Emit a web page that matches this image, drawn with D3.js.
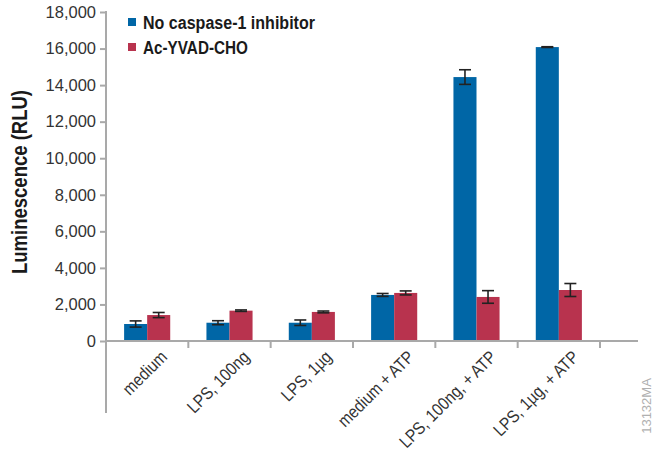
<!DOCTYPE html>
<html>
<head>
<meta charset="utf-8">
<script src="https://cdn.jsdelivr.net/npm/d3@7"></script>
<style>
  html, body { margin: 0; padding: 0; background: #fff; }
  svg { display: block; font-family: "Liberation Sans", Arial, Helvetica, sans-serif; }
</style>
</head>
<body>
<svg id="chart" width="656" height="455"></svg>
<script>
const categories = ["medium", "LPS, 100ng", "LPS, 1µg", "medium + ATP", "LPS, 100ng, + ATP", "LPS, 1µg, + ATP"];
const seriesNames = ["No caspase-1 inhibitor", "Ac-YVAD-CHO"];
const noInhibitor = [930, 1000, 1000, 2520, 14440, 16080];
const noInhibitorErr = [170, 110, 150, 80, 400, 20];
const acYvad = [1420, 1660, 1590, 2630, 2410, 2790];
const acYvadErr = [140, 40, 50, 110, 345, 355];
const yTicks = [0, 2000, 4000, 6000, 8000, 10000, 12000, 14000, 16000, 18000];
const colors = ["#0066a6", "#b8334e"];

const svg = d3.select("#chart");
const axisColor = "#a9a9a9";

const x0 = d3.scaleBand().domain(categories).range([106, 600]).paddingInner(0.44).paddingOuter(0.22);
const x1 = d3.scaleBand().domain(seriesNames).range([0, x0.bandwidth()]);
const y = d3.scaleLinear().domain([0, 18000]).range([341, 12]);

const values = [noInhibitor, acYvad];
const errs = [noInhibitorErr, acYvadErr];

// Bars
const groups = svg.append("g").selectAll("g").data(categories).join("g")
  .attr("transform", d => `translate(${x0(d)},0)`);

groups.selectAll("rect").data((d, i) => seriesNames.map((s, k) => ({s, k, v: values[k][i], e: errs[k][i]})))
  .join("rect")
  .attr("x", d => x1(d.s))
  .attr("width", x1.bandwidth())
  .attr("y", d => y(d.v))
  .attr("height", d => y(0) - y(d.v))
  .attr("fill", d => colors[d.k]);

// Error bars
const eb = groups.selectAll("g.err").data((d, i) => seriesNames.map((s, k) => ({s, k, v: values[k][i], e: errs[k][i]})))
  .join("g").attr("class", "err")
  .attr("transform", d => `translate(${x1(d.s) + x1.bandwidth() / 2},0)`);
eb.append("line").attr("x1", 0).attr("x2", 0)
  .attr("y1", d => y(d.v + d.e)).attr("y2", d => y(d.v - d.e))
  .attr("stroke", "#222").attr("stroke-width", 1.6);
eb.append("line").attr("x1", -6).attr("x2", 6)
  .attr("y1", d => y(d.v + d.e)).attr("y2", d => y(d.v + d.e))
  .attr("stroke", "#222").attr("stroke-width", 1.6);
eb.append("line").attr("x1", -6).attr("x2", 6)
  .attr("y1", d => y(d.v - d.e)).attr("y2", d => y(d.v - d.e))
  .attr("stroke", "#222").attr("stroke-width", 1.6);

// Y axis
const yAxis = svg.append("g").attr("transform", "translate(106,0)")
  .call(d3.axisLeft(y).tickValues(yTicks).tickSize(6).tickPadding(4).tickFormat(d3.format(",")));
yAxis.select(".domain").remove();
yAxis.selectAll(".tick line").attr("stroke", axisColor).attr("stroke-width", 2);
yAxis.selectAll(".tick text").attr("fill", "#333").style("font-size", "16.5px")
  .style("font-family", "\"Liberation Sans\", Arial, sans-serif");
svg.append("line").attr("x1", 106).attr("x2", 106).attr("y1", 11).attr("y2", 413)
  .attr("stroke", axisColor).attr("stroke-width", 2);

// X axis
svg.append("line").attr("x1", 105).attr("x2", 638).attr("y1", y(0)).attr("y2", y(0))
  .attr("stroke", axisColor).attr("stroke-width", 2);
const step = x0.step();
const boundaries = categories.map(c => x0(c) - x0.paddingOuter() * step + step);
svg.append("g").selectAll("line").data(boundaries).join("line")
  .attr("x1", d => d).attr("x2", d => d).attr("y1", y(0)).attr("y2", y(0) + 7)
  .attr("stroke", axisColor).attr("stroke-width", 2);

// Category labels
const catLabels = svg.append("g").selectAll("text").data(categories).join("text")
  .attr("transform", d => `translate(${x0(d) + x0.bandwidth() / 2 + 21},358) rotate(-45)`)
  .attr("text-anchor", "end")
  .attr("fill", "#333")
  .style("font-size", "17.5px")
  .text(d => d);
catLabels.each(function() {
  const len = this.getComputedTextLength();
  d3.select(this).attr("textLength", len * 0.87).attr("lengthAdjust", "spacingAndGlyphs");
});

// Y title
svg.append("text")
  .attr("transform", "translate(27,182) rotate(-90)")
  .attr("text-anchor", "middle")
  .attr("fill", "#1a1a1a")
  .style("font-size", "21.5px").style("font-weight", "bold")
  .attr("textLength", 184).attr("lengthAdjust", "spacingAndGlyphs")
  .text("Luminescence (RLU)");

// Legend
const legendLen = [172, 105];
const leg = svg.append("g").selectAll("g").data(seriesNames).join("g")
  .attr("transform", (d, i) => `translate(128,${18 + i * 25})`);
leg.append("rect").attr("width", 8).attr("height", 8).attr("fill", (d, i) => colors[i]);
leg.append("text").attr("x", 15).attr("y", 11)
  .attr("fill", "#1a1a1a")
  .style("font-size", "17.5px").style("font-weight", "bold")
  .attr("textLength", (d, i) => legendLen[i]).attr("lengthAdjust", "spacingAndGlyphs")
  .text(d => d);

// Watermark
svg.append("text")
  .attr("transform", "translate(651,406) rotate(-90)")
  .attr("text-anchor", "middle")
  .attr("fill", "#b0b0b0")
  .style("font-size", "13px")
  .text("13132MA");
</script>
</body>
</html>
